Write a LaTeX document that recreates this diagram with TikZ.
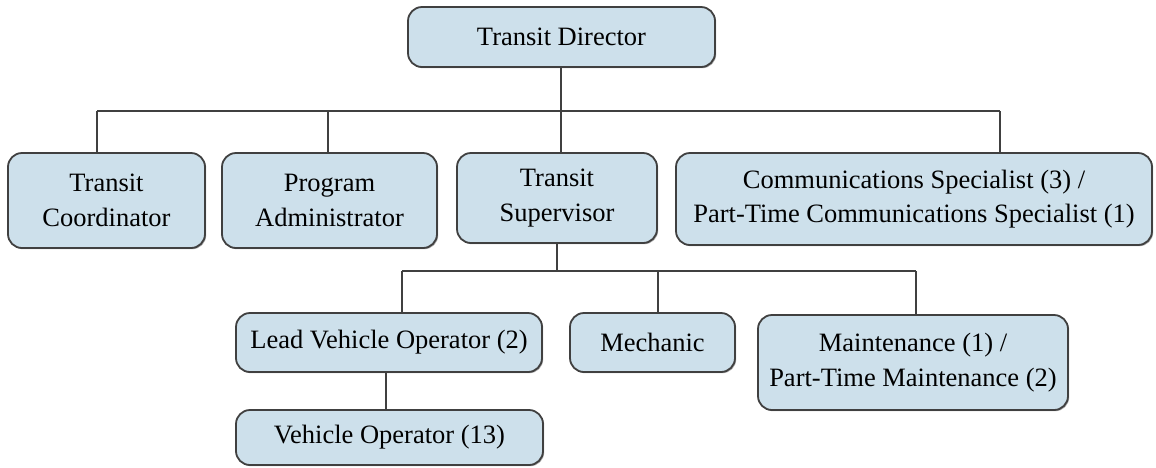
\documentclass[tikz,border=0pt]{standalone}
\usepackage{fontspec}
\setmainfont{Liberation Serif}
\usetikzlibrary{shadows}
\definecolor{boxfill}{RGB}{205,224,235}
\definecolor{edgegray}{RGB}{64,64,64}
\tikzset{
  orgbox/.style={draw=edgegray, line width=1.8pt, fill=boxfill, rounded corners=14pt,
    align=center, inner sep=0pt, font=\fontsize{26.5}{34.5}\selectfont,
    drop shadow={shadow xshift=1.2pt, shadow yshift=-1.2pt, opacity=0.35, fill=black}},
  link/.style={draw=edgegray, line width=1.7pt}
}
\begin{document}
\begin{tikzpicture}[x=1pt, y=-1pt]
\useasboundingbox (0,0) rectangle (1156,467);

% top level
\node[orgbox, minimum width=307pt, minimum height=60pt] (dir) at (561.5,37) {Transit Director};

% second level
\node[orgbox, minimum width=197pt, minimum height=95pt] (coord) at (106.5,200.5) {Transit\\Coordinator};
\node[orgbox, minimum width=215pt, minimum height=95pt] (prog) at (329.5,200.5) {Program\\Administrator};
\node[orgbox, minimum width=200pt, minimum height=90pt] (sup) at (557,198) {Transit\\Supervisor};
\node[orgbox, minimum width=476pt, minimum height=92pt] (comm) at (914,199) {Communications Specialist (3) /\\Part-Time Communications Specialist (1)};

% third level
\node[orgbox, minimum width=306pt, minimum height=59pt] (lead) at (389,342.5) {Lead Vehicle Operator (2)};
\node[orgbox, minimum width=165pt, minimum height=59pt] (mech) at (652.5,342.5) {Mechanic};
\node[orgbox, minimum width=310pt, minimum height=95pt] (maint) at (913,362.5) {Maintenance (1) /\\Part-Time Maintenance (2)};

% fourth level
\node[orgbox, minimum width=307pt, minimum height=55pt] (veh) at (389.5,437.5) {Vehicle Operator (13)};

% branch points of the connector bars
\coordinate (hubA) at (561,111);
\coordinate (barAl) at (97,111);
\coordinate (barAp) at (328,111);
\coordinate (barAr) at (1000,111);
\coordinate (hubB) at (557,271);
\coordinate (barBl) at (402,271);
\coordinate (barBm) at (658,271);
\coordinate (barBr) at (916,271);

% director to second level
\draw[link] (dir.south -| hubA) -- (sup.north -| hubA);
\draw[link] (barAl) -- (barAr);
\draw[link] (barAl) -- (barAl |- coord.north);
\draw[link] (barAp) -- (barAp |- prog.north);
\draw[link] (barAr) -- (barAr |- comm.north);

% supervisor to third level
\draw[link] (sup.south -| hubB) -- (hubB);
\draw[link] (barBl) -- (barBr);
\draw[link] (barBl) -- (barBl |- lead.north);
\draw[link] (barBm) -- (barBm |- mech.north);
\draw[link] (barBr) -- (barBr |- maint.north);

% lead operator to vehicle operators
\draw[link] ([xshift=-3pt]lead.south) -- ([xshift=-3pt]lead.south |- veh.north);
\end{tikzpicture}
\end{document}
